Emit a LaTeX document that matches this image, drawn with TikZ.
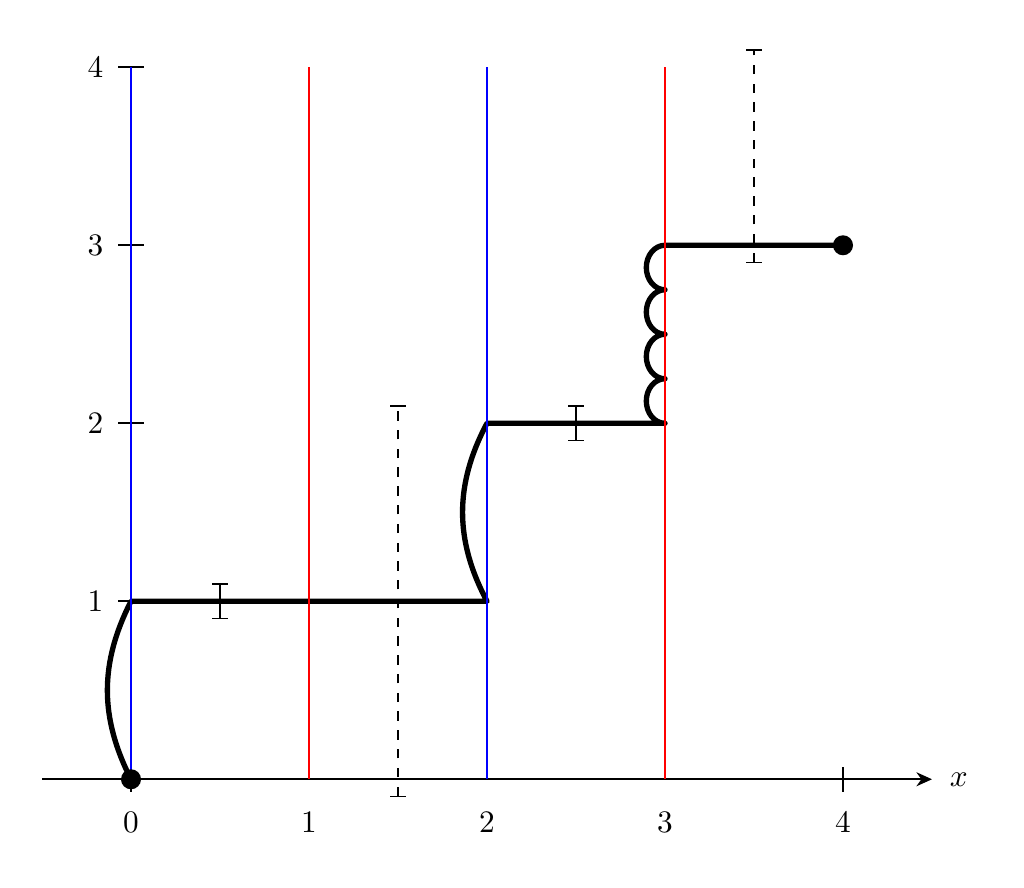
\documentclass[tikz,border=0pt]{standalone}
\usetikzlibrary{arrows.meta}
\begin{document}
\begin{tikzpicture}[x=2cm,y=2cm,
  axisline/.style={line width=0.5pt,-{Stealth[length=5pt,width=4.5pt]}},
  tickmark/.style={line width=0.5pt},
  ticklabel/.style={inner sep=0pt},
  pathline/.style={line width=1.7pt,line join=round},
  vline/.style={line width=0.9pt},
  errbar/.style={line width=0.5pt,{Bar[width=5pt,line width=0.5pt]}-{Bar[width=5pt,line width=0.5pt]}},
  dotmark/.style={fill=black,circle,inner sep=0pt,minimum size=6.4pt}]
\useasboundingbox (-0.736,-0.608) rectangle (5.017,4.378);

% axis
\coordinate (xa) at (-0.5,0);
\coordinate (xb) at (4.5,0);
\draw[axisline] (xa) -- (xb);
\node (xl) at (4.65,0) {$x$};

% x ticks and labels
\foreach \i in {0,4}{
  \coordinate (xt\i a) at (\i,-0.07);
  \coordinate (xt\i b) at (\i,0.07);
  \draw[tickmark] (xt\i a) -- (xt\i b);
}
\foreach \i in {0,...,4}{
  \node[ticklabel] (xlab\i) at (\i,-0.24) {$\i$};
}
% y ticks and labels
\foreach \j in {1,...,4}{
  \coordinate (yt\j a) at (-0.073,\j);
  \coordinate (yt\j b) at (0.073,\j);
  \draw[tickmark] (yt\j a) -- (yt\j b);
  \node[ticklabel] (ylab\j) at (-0.2,\j) {$\j$};
}

% black path
\coordinate (p0) at (0,0);
\coordinate (p1) at (0,1);
\coordinate (p2) at (2,1);
\coordinate (p3) at (2,2);
\coordinate (p4) at (3,2);
\coordinate (p5) at (3,3);
\coordinate (p6) at (4,3);
\draw[pathline] (p0) to[bend left=27] (p1) -- (p2) to[bend left=28] (p3) -- (p4)
  arc[start angle=270,end angle=90,x radius=0.105,y radius=0.125]
  arc[start angle=270,end angle=90,x radius=0.105,y radius=0.125]
  arc[start angle=270,end angle=90,x radius=0.105,y radius=0.125]
  arc[start angle=270,end angle=90,x radius=0.105,y radius=0.125]
  -- (p6);

% error bars
\coordinate (e1a) at (0.5,0.9);
\coordinate (e1b) at (0.5,1.1);
\draw[errbar] (e1a) -- (e1b);
\coordinate (e2a) at (1.5,-0.1);
\coordinate (e2b) at (1.5,2.1);
\draw[errbar,dashed] (e2a) -- (e2b);
\coordinate (e3a) at (2.5,1.9);
\coordinate (e3b) at (2.5,2.1);
\draw[errbar] (e3a) -- (e3b);
\coordinate (e4a) at (3.5,2.9);
\coordinate (e4b) at (3.5,4.1);
\draw[errbar,dashed] (e4a) -- (e4b);

% coloured lines
\foreach \k/\c in {0/blue,1/red,2/blue,3/red}{
  \coordinate (v\k a) at (\k,0);
  \coordinate (v\k b) at (\k,4);
  \draw[vline,\c] (v\k a) -- (v\k b);
}

% dots
\node[dotmark] (d0) at (p0) {};
\node[dotmark] (d1) at (p6) {};
\end{tikzpicture}
\end{document}
